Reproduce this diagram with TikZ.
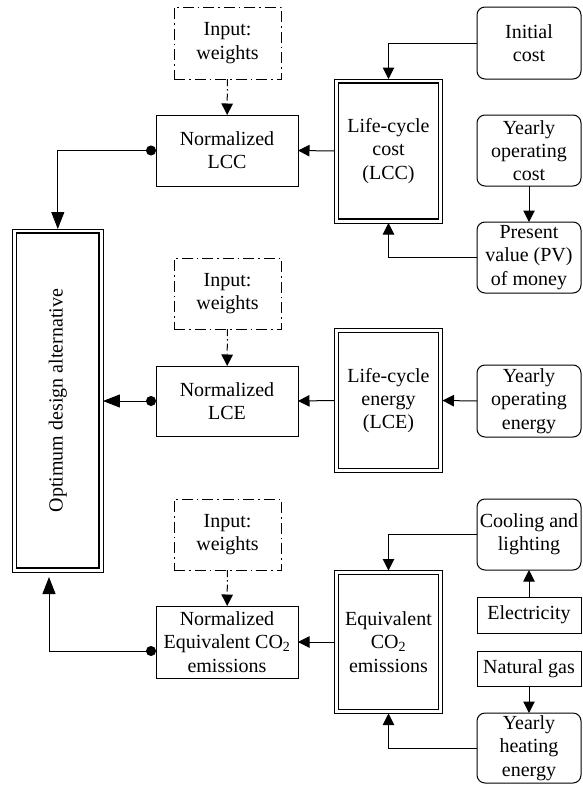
\documentclass[tikz,border=0pt]{standalone}
\usepackage{fontspec}
\setmainfont{Liberation Serif}
\usetikzlibrary{arrows.meta}
\tikzset{
  base/.style={draw, line width=1pt, inner sep=0pt, outer sep=0pt, align=center,
    font=\fontsize{20}{23.3}\selectfont},
  plainbox/.style={base},
  roundbox/.style={base, rounded corners=8pt},
  dblbox/.style={base, line width=1.4pt, outer sep=4pt},
  outerframe/.style={draw, line width=0.9pt},
  indash/.style={dash pattern=on 11pt off 4pt on 1.5pt off 4pt},
  inbox/.style={base, indash},
  conn/.style={line width=1pt, -{Triangle[length=11.5pt,width=11.5pt]}},
  dotconn/.style={line width=1pt, {Circle[length=10pt]}-{Triangle[length=17pt,width=13pt]}},
  inconn/.style={conn, dash pattern=on 7pt off 3pt on 1.5pt off 3pt},
}
\begin{document}
\begin{tikzpicture}[x=1pt,y=-1pt]
\useasboundingbox (0,0) rectangle (582,785);
% left big box
\node[dblbox, minimum width=82.3pt, minimum height=335pt] (optim) at (57.8,400.5)
  {\rotatebox{90}{Optimum design alternative}};
% row 1
\node[inbox, minimum width=107pt, minimum height=72pt] (in1) at (227.5,43) {Input:\\weights};
\node[plainbox, minimum width=142pt, minimum height=71pt] (n1) at (227,150.5) {Normalized\\LCC};
\node[dblbox, minimum width=100pt, minimum height=136pt] (lcc) at (388.5,151) {Life-cycle\\cost\\(LCC)};
\node[roundbox, minimum width=104pt, minimum height=72pt] (ic) at (529,43) {Initial\\cost};
\node[roundbox, minimum width=104pt, minimum height=71pt] (yoc) at (529,150.5) {Yearly\\operating\\cost};
\node[roundbox, minimum width=104pt, minimum height=71pt] (pv) at (529,257.5) {Present\\value (PV)\\of money};
% row 2
\node[inbox, minimum width=107pt, minimum height=71pt] (in2) at (227.5,293.5) {Input:\\weights};
\node[plainbox, minimum width=142pt, minimum height=70pt] (n2) at (227,401) {Normalized\\LCE};
\node[dblbox, minimum width=100pt, minimum height=136pt] (lce) at (388.5,400.5) {Life-cycle\\energy\\(LCE)};
\node[roundbox, minimum width=104pt, minimum height=72pt] (yoe) at (529,401) {Yearly\\operating\\energy};
% row 3
\node[inbox, minimum width=107pt, minimum height=71pt] (in3) at (227.5,534.5) {Input:\\weights};
\node[plainbox, minimum width=142pt, minimum height=72pt] (n3) at (227,642) {Normalized\\Equivalent CO\textsubscript{2}\\emissions};
\node[dblbox, minimum width=100pt, minimum height=135pt] (co2) at (388.5,642) {Equivalent\\CO\textsubscript{2}\\emissions};
\node[roundbox, minimum width=104pt, minimum height=71pt] (cl) at (529,534.5) {Cooling and\\lighting};
\node[plainbox, minimum width=104pt, minimum height=36pt] (el) at (529,615) {Electricity};
\node[plainbox, minimum width=104pt, minimum height=35pt] (ng) at (529,668.5) {Natural gas};
\node[roundbox, minimum width=104pt, minimum height=70pt] (yhe) at (529,748) {Yearly\\heating\\energy};
% outer frames of the double boxes
\foreach \b in {optim,lcc,lce,co2}
  \draw[outerframe] (\b.north west) rectangle (\b.south east);
% connectors row 1
\draw[inconn] (in1) -- (n1);
\draw[conn] (lcc.west) -- (n1.east);
\draw[dotconn] (n1.west) -| (optim.north);
\draw[conn] (ic.west) -| (lcc.north);
\draw[conn] (yoc) -- (pv);
\draw[conn] (pv.west) -| (lcc.south);
% row 2
\draw[inconn] (in2) -- (n2);
\draw[conn] (lce.west) -- (n2.east);
\draw[dotconn] (n2.west) -- (optim.east |- n2.west);
\draw[conn] (yoe.west) -- (lce.east);
% row 3
\draw[inconn] (in3) -- (n3);
\draw[conn] (co2.west) -- (n3.east);
\coordinate (n3dot) at ([yshift=-9pt]n3.west);
\coordinate (optimtip) at (49,577);
\draw[dotconn] (n3dot) -| (optimtip);
\draw[conn] (cl.west) -| (co2.north);
\draw[conn] (el) -- (cl);
\draw[conn] (ng) -- (yhe);
\draw[conn] (yhe.west) -| (co2.south);
\end{tikzpicture}
\end{document}
